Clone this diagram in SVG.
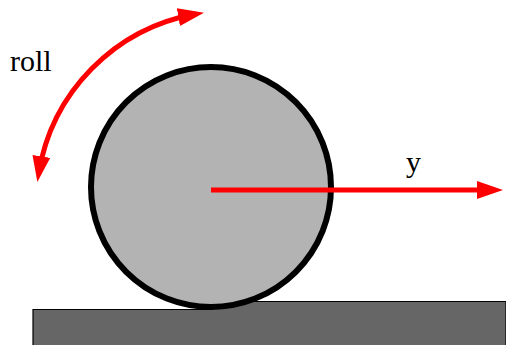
<svg xmlns="http://www.w3.org/2000/svg" width="506" height="345" viewBox="0 0 506 345">
<style>
.red{fill:none;stroke:#ff0000;stroke-width:5}
.lbl{font-size:30px;fill:#000}
</style>
<defs>
<marker id="ah" markerUnits="userSpaceOnUse" markerWidth="26" markerHeight="18" refX="18" refY="9" orient="auto-start-reverse" viewBox="0 0 26 18">
<path d="M0,0 L26,9 L0,18 z" fill="#ff0000"/>
</marker>
</defs>
<rect width="506" height="345" fill="#fff"/>
<g id="ground">
<polygon points="33,309.5 211,309.5 211,301.5 506,301.5 506,346 33,346" fill="#666" stroke="#000" stroke-width="1.2"/>
</g>
<g id="wheel">
<circle cx="211" cy="187" r="120" fill="#b3b3b3" stroke="#000" stroke-width="6"/>
</g>
<g id="connectors">
<path class="red" d="M38.6,174.2 A193,193 0 0 1 196.1,14" marker-start="url(#ah)" marker-end="url(#ah)"/>
<line class="red" x1="211" y1="190" x2="495" y2="190" marker-end="url(#ah)"/>
</g>
<g id="labels">
<text class="lbl" font-family="'Liberation Serif', 'Times New Roman', serif" x="10" y="71">roll</text>
<text class="lbl" font-family="'Liberation Serif', 'Times New Roman', serif" x="406" y="172">y</text>
</g>
</svg>
